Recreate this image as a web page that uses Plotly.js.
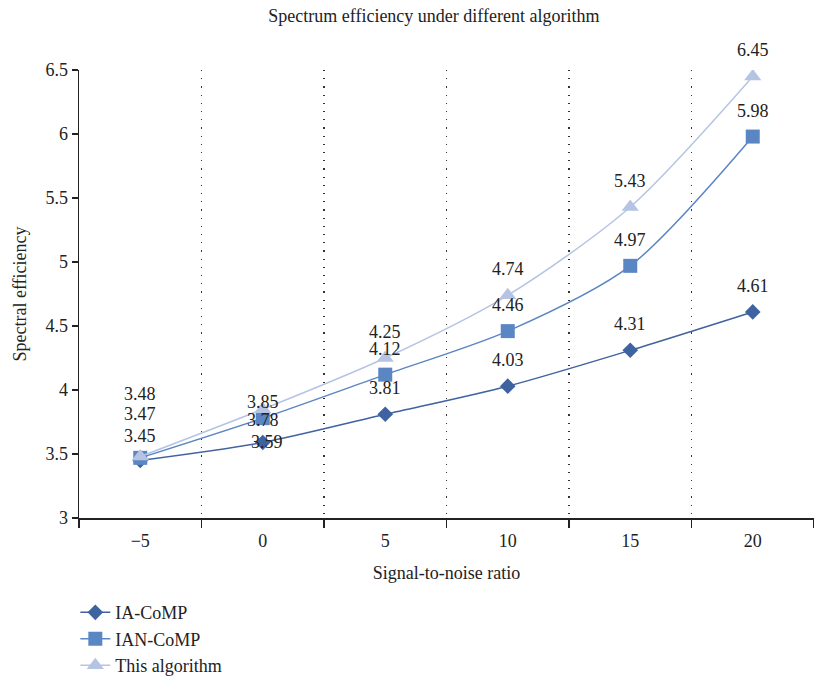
<!DOCTYPE html>
<html>
<head>
<meta charset="utf-8">
<script src="https://cdn.plot.ly/plotly-3.0.1.min.js"></script>
<style>html,body{margin:0;padding:0;background:#fff;}#chart{width:814px;height:690px;}</style>
</head>
<body>
<div id="chart"></div>
<script>
var categories = ["\u22125", "0", "5", "10", "15", "20"];
var seriesNames = ["IA-CoMP", "IAN-CoMP", "This algorithm"];
var iaComp = [3.45, 3.59, 3.81, 4.03, 4.31, 4.61];
var ianComp = [3.47, 3.78, 4.12, 4.46, 4.97, 5.98];
var thisAlg = [3.48, 3.85, 4.25, 4.74, 5.43, 6.45];
var yTicks = [3, 3.5, 4, 4.5, 5, 5.5, 6, 6.5];

var FONT = "Liberation Serif";
var colors = ["#3F62A0", "#5B86C4", "#B6C4E4"];
var symbols = ["diamond", "square", "triangle-up"];
var msizes = [12, 14, 15];
var allSeries = [iaComp, ianComp, thisAlg];

var traces = allSeries.map(function (vals, i) {
  return {
    type: "scatter",
    mode: "lines+markers",
    name: seriesNames[i],
    x: categories,
    y: vals,
    line: {color: colors[i], width: 1.5, shape: "spline", smoothing: 0.8},
    marker: {symbol: symbols[i], size: msizes[i], color: colors[i]},
    hoverinfo: "x+y"
  };
});

// data labels above each point; the crowded ones near the start are stacked
function labelShift(si, pi) {
  if (pi === 0) { return [24, 44, 63][si]; }
  if (pi === 1) { return [0, -2, 7][si]; }
  return 26;
}
var annotations = [];
allSeries.forEach(function (vals, si) {
  vals.forEach(function (v, pi) {
    annotations.push({
      x: pi, y: v, xref: "x", yref: "y",
      text: v.toFixed(2), showarrow: false, yshift: labelShift(si, pi),
      xshift: (pi === 1 && si === 0) ? 4 : 0,
      font: {family: FONT, size: 18, color: "#222"}
    });
  });
});

var layout = {
  width: 814, height: 690,
  margin: {l: 79, r: 0, t: 70, b: 172},
  paper_bgcolor: "#fff", plot_bgcolor: "#fff",
  font: {family: FONT, size: 16, color: "#222"},
  title: {text: "Spectrum efficiency under different algorithm", x: 0.533, xanchor: "center", y: 0.977, yanchor: "middle", font: {family: FONT, size: 18, color: "#222"}},
  showlegend: true,
  legend: {x: -0.005, xanchor: "left", y: -0.17, yanchor: "top", orientation: "v", font: {family: FONT, size: 18, color: "#222"}, bgcolor: "rgba(0,0,0,0)", tracegroupgap: 0},
  xaxis: {
    type: "category", range: [-0.5, 5.5], tickson: "boundaries",
    showline: true, linecolor: "#222", linewidth: 1.5,
    ticks: "outside", ticklen: 8, tickcolor: "#222", tickwidth: 1.2,
    showgrid: true, gridcolor: "#333", gridwidth: 1.2, griddash: "1.2px,7px",
    ticklabelstandoff: 6,
    tickfont: {family: FONT, size: 18, color: "#222"},
    title: {text: "Signal-to-noise ratio", standoff: 16, font: {family: FONT, size: 18, color: "#222"}},
    zeroline: false, fixedrange: true
  },
  yaxis: {
    range: [3, 6.5], tickvals: yTicks, ticktext: yTicks.map(String),
    showline: true, linecolor: "#222", linewidth: 1.5,
    ticks: "outside", ticklen: 6, tickcolor: "#222", tickwidth: 1.2,
    showgrid: false, zeroline: false,
    tickfont: {family: FONT, size: 18, color: "#222"},
    title: {text: "Spectral efficiency", standoff: 14, font: {family: FONT, size: 18, color: "#222"}},
    fixedrange: true
  },
  annotations: annotations
};

Plotly.newPlot("chart", traces, layout, {displayModeBar: false, staticPlot: true});
</script>
</body>
</html>
